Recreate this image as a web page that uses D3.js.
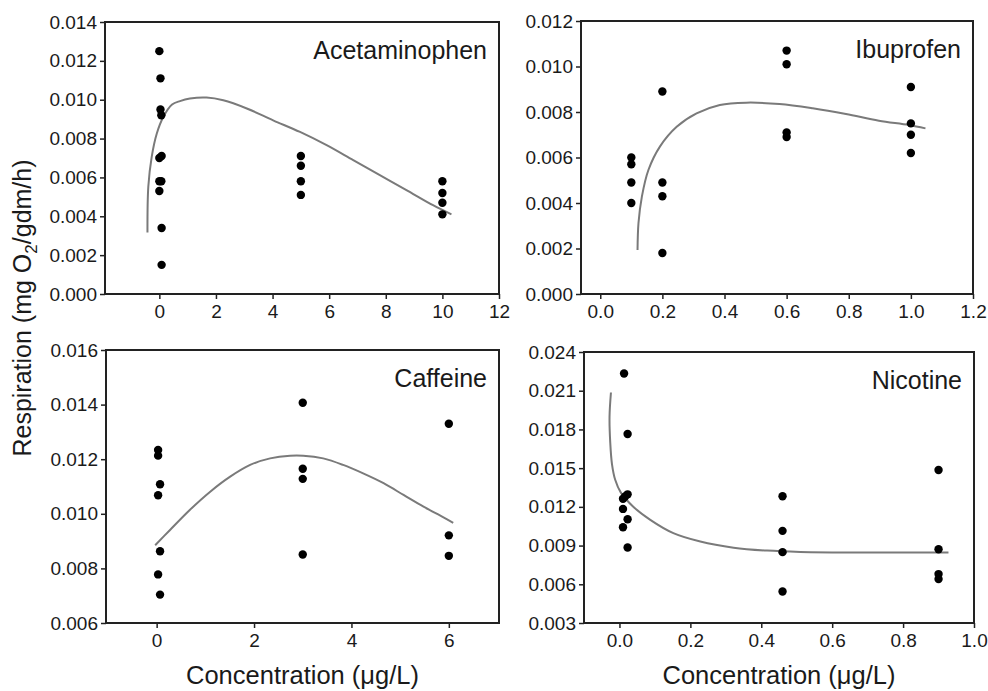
<!DOCTYPE html>
<html>
<head>
<meta charset="utf-8">
<script src="https://cdnjs.cloudflare.com/ajax/libs/d3/7.8.5/d3.min.js"></script>
<style>
  body { margin: 0; background: #fff; }
  svg text { font-family: Arial, "Liberation Sans", sans-serif; fill: #1a1a1a; }
</style>
</head>
<body>
<script>
// values, [concentration, respiration]
var panelNames = ["Acetaminophen", "Ibuprofen", "Caffeine", "Nicotine"];

var acetaminophenPoints = [[0, 0.0125], [0.04, 0.0111], [0.04, 0.0095], [0.07, 0.0092], [0.08, 0.0071],
  [0, 0.0070], [0, 0.0058], [0.07, 0.0058], [0, 0.0053], [0.08, 0.0034], [0.08, 0.0015],
  [5, 0.0071], [5, 0.0066], [5, 0.0058], [5, 0.0051],
  [10, 0.0058], [10, 0.0052], [10, 0.0047], [10, 0.0041]];
var acetaminophenFit = [[-0.42, 0.00317], [-0.39, 0.00552], [-0.27, 0.00706], [-0.09, 0.00826], [0.14, 0.00911],
  [0.45, 0.00975], [0.73, 0.00993], [1.08, 0.01006], [1.67, 0.01011], [2.26, 0.00997], [3.09, 0.00955],
  [4.02, 0.00894], [4.97, 0.00834], [5.91, 0.00766], [6.85, 0.00689], [7.79, 0.00612], [8.73, 0.00535],
  [9.67, 0.00457], [10.32, 0.0041]];

var ibuprofenPoints = [[0.1, 0.0060], [0.1, 0.0057], [0.1, 0.0049], [0.1, 0.0040],
  [0.2, 0.0089], [0.2, 0.0049], [0.2, 0.0043], [0.2, 0.0018],
  [0.6, 0.0107], [0.6, 0.0101], [0.6, 0.0071], [0.6, 0.0069],
  [1.0, 0.0091], [1.0, 0.0075], [1.0, 0.0070], [1.0, 0.0062]];
var ibuprofenFit = [[0.12, 0.00193], [0.123, 0.00311], [0.134, 0.00428], [0.155, 0.00545], [0.192, 0.00648],
  [0.246, 0.00735], [0.31, 0.00794], [0.385, 0.00831], [0.47, 0.00841], [0.577, 0.00835], [0.684, 0.00816],
  [0.791, 0.00791], [0.897, 0.00762], [0.994, 0.00743], [1.047, 0.00728]];

var caffeinePoints = [[0.03, 0.01234], [0.03, 0.01213], [0.07, 0.01108], [0.03, 0.01068], [0.07, 0.00863],
  [0.03, 0.00778], [0.07, 0.00704],
  [3, 0.01407], [3, 0.01165], [3, 0.01128], [3, 0.00851],
  [6, 0.0133], [6, 0.00921], [6, 0.00846]];
var caffeineFit = [[-0.03, 0.00885], [0.27, 0.0094], [0.68, 0.01014], [1.1, 0.01081], [1.51, 0.01136],
  [1.92, 0.01179], [2.33, 0.01203], [2.74, 0.01213], [3.01, 0.01213], [3.42, 0.01203], [3.83, 0.01179],
  [4.24, 0.01148], [4.66, 0.01112], [5.07, 0.01069], [5.48, 0.01026], [5.89, 0.00987], [6.09, 0.00967]];

var nicotinePoints = [[0.013, 0.02233], [0.023, 0.01764], [0.023, 0.01297], [0.016, 0.0128], [0.01, 0.01263],
  [0.01, 0.01184], [0.023, 0.01104], [0.01, 0.01042], [0.023, 0.00885],
  [0.46, 0.01282], [0.46, 0.01014], [0.46, 0.00849], [0.46, 0.00544],
  [0.9, 0.01486], [0.9, 0.00872], [0.9, 0.00679], [0.9, 0.0064]];
var nicotineFit = [[-0.024, 0.02086], [-0.028, 0.01897], [-0.026, 0.0170], [-0.021, 0.0153], [-0.012, 0.0141],
  [0.004, 0.0131], [0.039, 0.01201], [0.087, 0.01099], [0.152, 0.00996], [0.228, 0.00931], [0.322, 0.00884],
  [0.416, 0.00861], [0.51, 0.00851], [0.698, 0.00846], [0.928, 0.00846]];

// tick labels
var acetaminophenXTicks = [0, 2, 4, 6, 8, 10, 12];
var acetaminophenYTicks = [0, 0.002, 0.004, 0.006, 0.008, 0.010, 0.012, 0.014];
var ibuprofenXTicks = [0, 0.2, 0.4, 0.6, 0.8, 1.0, 1.2];
var ibuprofenYTicks = [0, 0.002, 0.004, 0.006, 0.008, 0.010, 0.012];
var caffeineXTicks = [0, 2, 4, 6];
var caffeineYTicks = [0.006, 0.008, 0.010, 0.012, 0.014, 0.016];
var nicotineXTicks = [0, 0.2, 0.4, 0.6, 0.8, 1.0];
var nicotineYTicks = [0.003, 0.006, 0.009, 0.012, 0.015, 0.018, 0.021, 0.024];

var yTitle = "Respiration";
var xTitle = "Concentration (\u03bcg/L)";

window.onload = function() {

  var svg = d3.select("body")
              .append("svg")
              .attr("width", 988)
              .attr("height", 691);

  // panel boxes in pixels + axis domains
  var panels = [
    { name: panelNames[0], pts: acetaminophenPoints, fit: acetaminophenFit, xt: acetaminophenXTicks, yt: acetaminophenYTicks,
      xdom: [-1.92, 12], xfmt: d3.format("d"), box: {l: 105, r: 499, t: 22, b: 294} },
    { name: panelNames[1], pts: ibuprofenPoints, fit: ibuprofenFit, xt: ibuprofenXTicks, yt: ibuprofenYTicks,
      xdom: [-0.062, 1.2], xfmt: d3.format(".1f"), box: {l: 581, r: 973, t: 21, b: 294} },
    { name: panelNames[2], pts: caffeinePoints, fit: caffeineFit, xt: caffeineXTicks, yt: caffeineYTicks,
      xdom: [-1.04, 7.03], xfmt: d3.format("d"), box: {l: 106, r: 499, t: 350, b: 623} },
    { name: panelNames[3], pts: nicotinePoints, fit: nicotineFit, xt: nicotineXTicks, yt: nicotineYTicks,
      xdom: [-0.1, 1.0], xfmt: d3.format(".1f"), box: {l: 584, r: 974, t: 352, b: 623} }
  ];

  panels.forEach(function(p) {
    var b = p.box;
    var xScale = d3.scaleLinear().domain(p.xdom).range([b.l, b.r]);
    var yScale = d3.scaleLinear()
                   .domain([p.yt[0], p.yt[p.yt.length - 1]])
                   .range([b.b, b.t]);

    var g = svg.append("g");

    // y axis
    var yGuide = g.append("g")
      .attr("transform", "translate(" + b.l + ",0)")
      .call(d3.axisLeft(yScale).tickValues(p.yt).tickFormat(d3.format(".3f")).tickSize(5).tickPadding(3));
    yGuide.select(".domain").remove();
    yGuide.selectAll("line").style("stroke", "#222").style("stroke-width", 1.5);
    yGuide.selectAll("text").style("font-size", "19px").style("fill", "#1a1a1a")
          .style("font-family", "Arial, 'Liberation Sans', sans-serif");

    // x axis
    var xGuide = g.append("g")
      .attr("transform", "translate(0," + b.b + ")")
      .call(d3.axisBottom(xScale).tickValues(p.xt).tickFormat(p.xfmt).tickSize(5).tickPadding(6));
    xGuide.select(".domain").remove();
    xGuide.selectAll("line").style("stroke", "#222").style("stroke-width", 1.5);
    xGuide.selectAll("text").style("font-size", "19px").style("fill", "#1a1a1a")
          .style("font-family", "Arial, 'Liberation Sans', sans-serif");

    // frame
    g.append("rect")
      .attr("x", b.l).attr("y", b.t)
      .attr("width", b.r - b.l).attr("height", b.b - b.t)
      .style("fill", "none")
      .style("stroke", "#222")
      .style("stroke-width", 2);

    // fitted curve
    var line = d3.line()
      .x(function(d) { return xScale(d[0]); })
      .y(function(d) { return yScale(d[1]); })
      .curve(d3.curveCatmullRom.alpha(0.5));

    g.append("path")
      .datum(p.fit)
      .attr("d", line)
      .style("fill", "none")
      .style("stroke", "#7a7a7a")
      .style("stroke-width", 2);

    // measurements
    g.selectAll("circle")
      .data(p.pts)
      .enter()
      .append("circle")
      .attr("cx", function(d) { return xScale(d[0]); })
      .attr("cy", function(d) { return yScale(d[1]); })
      .attr("r", 4.2)
      .style("fill", "#000");

    // panel name
    g.append("text")
      .attr("x", b.r - 12)
      .attr("y", b.t + 37)
      .attr("text-anchor", "end")
      .style("font-size", "25px")
      .text(p.name);
  });

  // axis titles
  [302.5, 779].forEach(function(cx) {
    svg.append("text")
      .attr("x", cx)
      .attr("y", 684)
      .attr("text-anchor", "middle")
      .style("font-size", "25.5px")
      .text(xTitle);
  });

  var yLabel = svg.append("text")
    .attr("transform", "translate(31,308) rotate(-90)")
    .attr("text-anchor", "middle")
    .style("font-size", "25px");
  yLabel.append("tspan").text(yTitle + " (mg O");
  yLabel.append("tspan").attr("dy", 6).style("font-size", "17px").text("2");
  yLabel.append("tspan").attr("dy", -6).text("/gdm/h)");
};
</script>
</body>
</html>
